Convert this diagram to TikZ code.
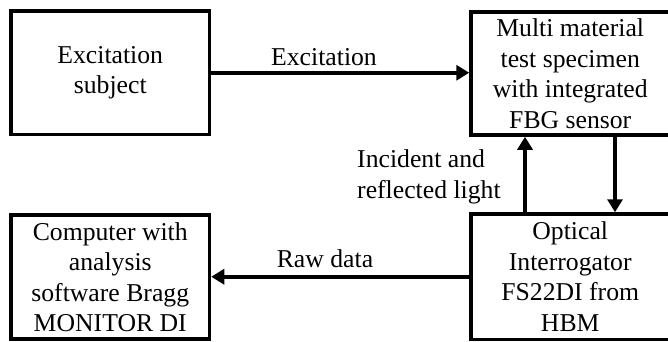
\documentclass[tikz,border=0pt]{standalone}
\usepackage{fontspec}
\setmainfont{Liberation Serif}
\usetikzlibrary{arrows.meta}
\begin{document}
\begin{tikzpicture}[x=1pt,y=1pt,
  box/.style={draw=black, line width=3.5pt, minimum width=198.5pt, align=center, inner sep=0pt,
    font=\fontsize{25.7}{30.5}\selectfont},
  conn/.style={line width=3.5pt, -{Triangle[length=13pt,width=15pt]}},
  lbl/.style={inner sep=0pt, font=\fontsize{25.7}{30.5}\selectfont}]
\useasboundingbox (0,0) rectangle (668,341);
\fill[white] (0,0) rectangle (668,341);
\clip (0,0) rectangle (668,341);
\node[box, minimum height=123.5pt] (exc) at (110.25,268.25) {Excitation\\subject};
\node[box, minimum height=123pt] (spec) at (570.25,267.5) {Multi material\\test specimen\\with integrated\\FBG sensor};
\node[box, minimum height=124pt] (comp) at (110.25,64) {Computer with\\analysis\\software Bragg\\MONITOR DI};
\node[box, minimum height=125.5pt] (opt) at (570.25,64.25) {Optical\\Interrogator\\FS22DI from\\HBM};
\coordinate (ux) at (525,0);
\coordinate (dx) at (615,0);
\draw[conn] (exc.east) -- (exc.east -| spec.west);
\draw[conn] (opt.north -| ux) -- (spec.south -| ux);
\draw[conn] (spec.south -| dx) -- (opt.north -| dx);
\draw[conn] (opt.west) -- (opt.west -| comp.east);
\node[lbl, anchor=base] (l1) at (324,276) {Excitation};
\node[lbl, anchor=base] (l2) at (325,74) {Raw data};
\node[lbl, anchor=base west, align=left] (l3) at (357,143) {Incident and\\reflected light};
\end{tikzpicture}
\end{document}
